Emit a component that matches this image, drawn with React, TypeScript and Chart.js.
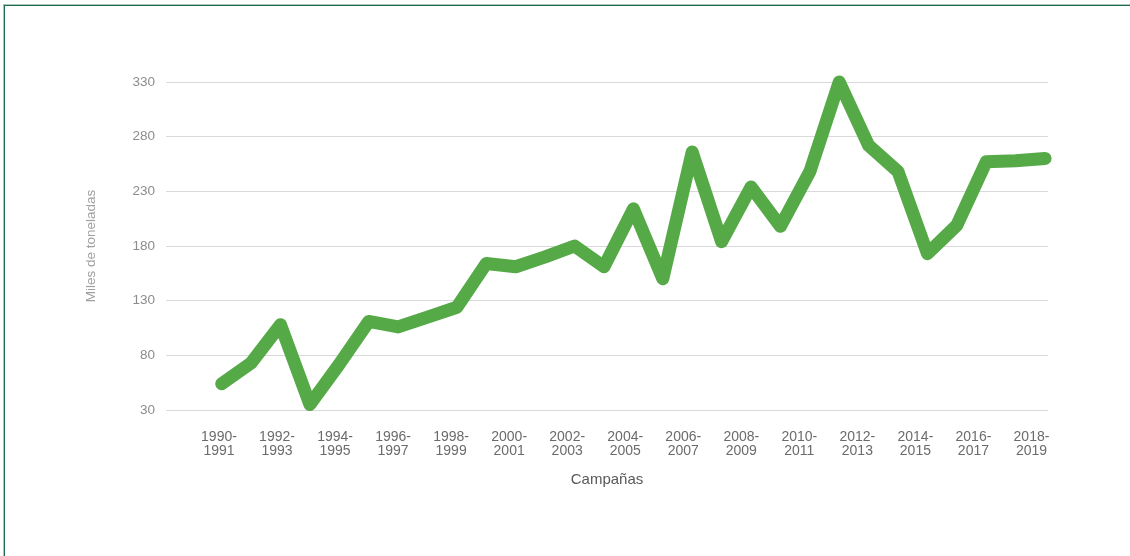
import React, { useEffect, useRef } from "react";
import { Chart, registerables } from "chart.js";

Chart.register(...registerables);

const campaigns: string[] = [
  "1990-1991", "1991-1992", "1992-1993", "1993-1994", "1994-1995",
  "1995-1996", "1996-1997", "1997-1998", "1998-1999", "1999-2000",
  "2000-2001", "2001-2002", "2002-2003", "2003-2004", "2004-2005",
  "2005-2006", "2006-2007", "2007-2008", "2008-2009", "2009-2010",
  "2010-2011", "2011-2012", "2012-2013", "2013-2014", "2014-2015",
  "2015-2016", "2016-2017", "2017-2018", "2018-2019",
];

// Miles de toneladas
const production: number[] = [
  54, 73, 108, 35, 72, 111, 106, 115, 124, 164,
  161, 170, 180, 161, 214, 150, 266, 184, 234, 198,
  248, 330, 272, 248, 173, 199, 257, 258, 260,
];

const yMin = 30;
const yMax = 330;
const yStep = 50;

const FONT = "'Liberation Sans', Arial, Helvetica, sans-serif";

export default function App() {
  const canvasRef = useRef<HTMLCanvasElement | null>(null);

  useEffect(() => {
    const canvas = canvasRef.current;
    if (!canvas) return;
    const labelIdx = campaigns.map((_, i) => i).filter((i) => i % 2 === 0);
    const chart = new Chart(canvas, {
      type: "line",
      data: {
        datasets: [
          {
            label: "Producción",
            data: production.map((v, i) => ({ x: i, y: v })),
            borderColor: "#55aa47",
            backgroundColor: "#55aa47",
            borderWidth: 13,
            borderCapStyle: "round",
            borderJoinStyle: "round",
            pointRadius: 0,
            pointHoverRadius: 0,
            tension: 0,
            clip: false,
            xAxisID: "x",
            yAxisID: "y",
          },
        ],
      },
      options: {
        responsive: false,
        animation: false,
        events: [],
        layout: { padding: { top: 82, right: 82, bottom: 66, left: 0 } },
        plugins: {
          legend: { display: false },
          tooltip: { enabled: false },
        },
        scales: {
          x: {
            type: "linear",
            display: false,
            min: -1.894,
            max: 28.1,
          },
          xl: {
            type: "linear",
            position: "bottom",
            min: -1.826,
            max: 28.57,
            grid: { display: false, drawTicks: false },
            border: { display: false },
            afterFit: (scale: any) => {
              scale.height = 80;
            },
            afterBuildTicks: (scale: any) => {
              scale.ticks = labelIdx.map((v) => ({ value: v }));
            },
            ticks: {
              autoSkip: false,
              maxRotation: 0,
              minRotation: 0,
              padding: 19.5,
              color: "#6b6b6b",
              font: { family: FONT, size: 14, lineHeight: 1.05 },
              callback: (value: any) => {
                const s = campaigns[Math.round(Number(value))];
                if (!s) return "";
                const [a, b] = s.split("-");
                return [a + "-", b];
              },
            },
            title: {
              display: true,
              text: "Campañas",
              color: "#595959",
              font: { family: FONT, size: 15, lineHeight: 1.2 },
              padding: { top: 0, bottom: 1 },
            },
          },
          y: {
            type: "linear",
            position: "left",
            min: yMin,
            max: yMax,
            afterFit: (scale: any) => {
              scale.width = 166;
            },
            grid: {
              color: "#d9d9d9",
              lineWidth: 1,
              drawTicks: false,
            },
            border: { display: false },
            ticks: {
              stepSize: yStep,
              padding: 11,
              color: "#8c8c8c",
              font: { family: FONT, size: 13.5 },
            },
            title: {
              display: true,
              text: "Miles de toneladas",
              color: "#a0a0a0",
              font: { family: FONT, size: 13.5, lineHeight: 1.2 },
              padding: { top: 83.6, bottom: 0 },
            },
          },
        },
      },
    } as any);
    return () => chart.destroy();
  }, []);

  return (
    <div
      style={{
        position: "fixed",
        left: 0,
        top: 0,
        width: 1130,
        height: 556,
        background: "#ffffff",
        overflow: "hidden",
      }}
    >
      <div
        style={{
          position: "absolute",
          left: 3,
          top: 4,
          width: 1200,
          height: 600,
          borderTop: "1px solid #a9c8b9",
          borderLeft: "1px solid #a9c8b9",
        }}
      />
      <div
        style={{
          position: "absolute",
          left: 4,
          top: 5,
          width: 1200,
          height: 600,
          borderTop: "1px solid #1f6b4d",
          borderLeft: "1px solid #1f6b4d",
        }}
      />
      <canvas
        ref={canvasRef}
        width={1130}
        height={556}
        style={{ position: "absolute", left: 0, top: 0, width: 1130, height: 556 }}
      />
    </div>
  );
}
